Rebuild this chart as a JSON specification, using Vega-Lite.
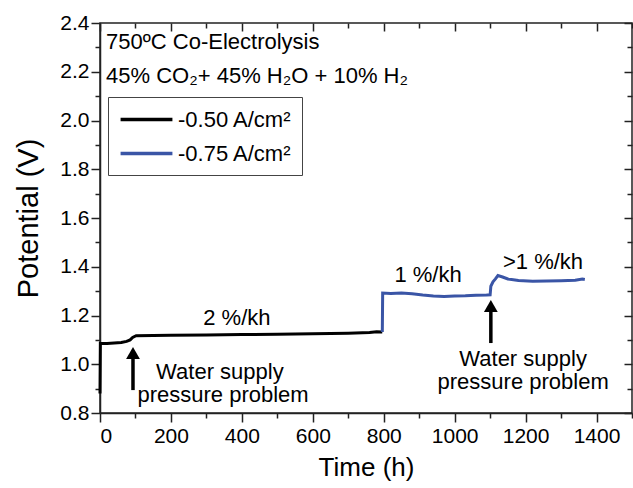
{
  "$schema": "https://vega.github.io/schema/vega-lite/v6.json",
  "width": 532,
  "height": 390,
  "autosize": {"type": "none"},
  "padding": {"left": 100, "top": 23, "right": 1, "bottom": 75},
  "background": "white",
  "config": {
    "view": {"stroke": "#222", "strokeWidth": 1.5},
    "font": "Liberation Sans",
    "axis": {"grid": false, "domainColor": "#222", "domainWidth": 1.5, "tickColor": "#222", "tickWidth": 1.5, "labelFont": "Liberation Sans", "titleFont": "Liberation Sans", "labelColor": "#000", "titleColor": "#000", "titleFontWeight": "normal"}
  },
  "datasets": {
    "series": [
      {"t": 0, "v": 0.88, "s": "-0.50 A/cm²"},
      {"t": 1, "v": 1.085, "s": "-0.50 A/cm²"},
      {"t": 20, "v": 1.085, "s": "-0.50 A/cm²"},
      {"t": 40, "v": 1.087, "s": "-0.50 A/cm²"},
      {"t": 60, "v": 1.089, "s": "-0.50 A/cm²"},
      {"t": 75, "v": 1.094, "s": "-0.50 A/cm²"},
      {"t": 85, "v": 1.1, "s": "-0.50 A/cm²"},
      {"t": 92, "v": 1.11, "s": "-0.50 A/cm²"},
      {"t": 102, "v": 1.117, "s": "-0.50 A/cm²"},
      {"t": 150, "v": 1.118, "s": "-0.50 A/cm²"},
      {"t": 200, "v": 1.119, "s": "-0.50 A/cm²"},
      {"t": 300, "v": 1.12, "s": "-0.50 A/cm²"},
      {"t": 400, "v": 1.122, "s": "-0.50 A/cm²"},
      {"t": 500, "v": 1.123, "s": "-0.50 A/cm²"},
      {"t": 600, "v": 1.125, "s": "-0.50 A/cm²"},
      {"t": 700, "v": 1.127, "s": "-0.50 A/cm²"},
      {"t": 760, "v": 1.13, "s": "-0.50 A/cm²"},
      {"t": 780, "v": 1.133, "s": "-0.50 A/cm²"},
      {"t": 796, "v": 1.132, "s": "-0.50 A/cm²"},
      {"t": 796, "v": 1.132, "s": "-0.75 A/cm²"},
      {"t": 797, "v": 1.292, "s": "-0.75 A/cm²"},
      {"t": 820, "v": 1.29, "s": "-0.75 A/cm²"},
      {"t": 850, "v": 1.292, "s": "-0.75 A/cm²"},
      {"t": 880, "v": 1.289, "s": "-0.75 A/cm²"},
      {"t": 910, "v": 1.284, "s": "-0.75 A/cm²"},
      {"t": 940, "v": 1.28, "s": "-0.75 A/cm²"},
      {"t": 970, "v": 1.278, "s": "-0.75 A/cm²"},
      {"t": 1000, "v": 1.28, "s": "-0.75 A/cm²"},
      {"t": 1030, "v": 1.281, "s": "-0.75 A/cm²"},
      {"t": 1060, "v": 1.283, "s": "-0.75 A/cm²"},
      {"t": 1090, "v": 1.284, "s": "-0.75 A/cm²"},
      {"t": 1100, "v": 1.285, "s": "-0.75 A/cm²"},
      {"t": 1102, "v": 1.32, "s": "-0.75 A/cm²"},
      {"t": 1108, "v": 1.338, "s": "-0.75 A/cm²"},
      {"t": 1115, "v": 1.35, "s": "-0.75 A/cm²"},
      {"t": 1122, "v": 1.364, "s": "-0.75 A/cm²"},
      {"t": 1135, "v": 1.358, "s": "-0.75 A/cm²"},
      {"t": 1150, "v": 1.35, "s": "-0.75 A/cm²"},
      {"t": 1180, "v": 1.344, "s": "-0.75 A/cm²"},
      {"t": 1220, "v": 1.341, "s": "-0.75 A/cm²"},
      {"t": 1260, "v": 1.342, "s": "-0.75 A/cm²"},
      {"t": 1300, "v": 1.343, "s": "-0.75 A/cm²"},
      {"t": 1340, "v": 1.345, "s": "-0.75 A/cm²"},
      {"t": 1360, "v": 1.35, "s": "-0.75 A/cm²"},
      {"t": 1367, "v": 1.348, "s": "-0.75 A/cm²"}
    ],
    "header": [
      {"t": 17, "v": 2.322, "label": "750ºC Co-Electrolysis"},
      {"t": 17, "v": 2.183, "label": "45% CO₂+ 45% H₂O + 10% H₂"}
    ],
    "notes": [
      {"t": 386, "v": 1.19, "label": "2 %/kh"},
      {"t": 338, "v": 0.968, "label": "Water supply"},
      {"t": 347, "v": 0.874, "label": "pressure problem"},
      {"t": 925, "v": 1.366, "label": "1 %/kh"},
      {"t": 1249, "v": 1.419, "label": ">1 %/kh"},
      {"t": 1193, "v": 1.022, "label": "Water supply"},
      {"t": 1193, "v": 0.927, "label": "pressure problem"}
    ],
    "arrows": [
      {"t": 93, "v1": 0.894, "v2": 1.05, "tip": 1.046},
      {"t": 1102, "v1": 1.087, "v2": 1.243, "tip": 1.239}
    ]
  },
  "resolve": {"axis": {"x": "independent", "y": "independent"}},
  "layer": [
    {
      "data": {"name": "series"},
      "mark": {"type": "line", "strokeWidth": 3, "interpolate": "linear"},
      "encoding": {
        "x": {"field": "t", "type": "quantitative", "scale": {"domain": [0, 1500], "nice": false},
          "axis": {"orient": "bottom", "title": "Time (h)", "titleFontSize": 26, "titlePadding": 8, "labelFontSize": 21, "labelPadding": 3,
            "values": [0,100,200,300,400,500,600,700,800,900,1000,1100,1200,1300,1400,1500],
            "labelExpr": "datum.value % 200 === 0 ? datum.label : ''",
            "format": "d",
            "tickSize": {"condition": {"test": "datum.value % 200 === 0", "value": 9}, "value": 5}}},
        "y": {"field": "v", "type": "quantitative", "scale": {"domain": [0.8, 2.4], "nice": false, "zero": false},
          "axis": {"orient": "left", "title": "Potential (V)", "titleFontSize": 29, "titlePadding": 16, "labelFontSize": 21, "labelPadding": 2,
            "values": [0.8,0.9,1.0,1.1,1.2,1.3,1.4,1.5,1.6,1.7,1.8,1.9,2.0,2.1,2.2,2.3,2.4],
            "format": ".1f",
            "labelExpr": "round(datum.value*10) % 2 === 0 ? datum.label : ''",
            "tickSize": {"condition": {"test": "round(datum.value*10) % 2 === 0", "value": 9}, "value": 5}}},
        "color": {"field": "s", "type": "nominal",
          "scale": {"domain": ["-0.50 A/cm²", "-0.75 A/cm²"], "range": ["#000000", "#3a55a6"]},
          "legend": {"title": null, "orient": "none", "legendX": 8, "legendY": 74, "strokeColor": "#444",
            "padding": 10, "symbolType": "M-2.5,0H2.5", "symbolSize": 430, "symbolOffset": 16, "symbolStrokeWidth": 3.5,
            "labelFontSize": 22, "labelFont": "Liberation Sans", "labelColor": "#000", "rowPadding": 10, "labelOffset": 19}}
      }
    },
    {
      "data": {"name": "header"},
      "mark": {"type": "text", "align": "left", "baseline": "middle", "fontSize": 22, "font": "Liberation Sans", "color": "#000"},
      "encoding": {
        "x": {"field": "t", "type": "quantitative",
          "axis": {"orient": "top", "title": null, "labels": false, "domain": false,
            "values": [0,100,200,300,400,500,600,700,800,900,1000,1100,1200,1300,1400,1500],
            "tickSize": {"condition": {"test": "datum.value % 200 === 0", "value": -8}, "value": -5}}},
        "y": {"field": "v", "type": "quantitative",
          "axis": {"orient": "right", "title": null, "labels": false, "domain": false,
            "values": [0.8,0.9,1.0,1.1,1.2,1.3,1.4,1.5,1.6,1.7,1.8,1.9,2.0,2.1,2.2,2.3,2.4],
            "tickSize": {"condition": {"test": "round(datum.value*10) % 2 === 0", "value": -8}, "value": -5}}},
        "text": {"field": "label"}
      }
    },
    {
      "data": {"name": "notes"},
      "mark": {"type": "text", "align": "center", "baseline": "middle", "fontSize": 22, "font": "Liberation Sans", "color": "#000"},
      "encoding": {
        "x": {"field": "t", "type": "quantitative", "axis": null},
        "y": {"field": "v", "type": "quantitative", "axis": null},
        "text": {"field": "label"}
      }
    },
    {
      "data": {"name": "arrows"},
      "mark": {"type": "rule", "strokeWidth": 3.5, "color": "#000"},
      "encoding": {
        "x": {"field": "t", "type": "quantitative", "axis": null},
        "y": {"field": "v1", "type": "quantitative", "axis": null},
        "y2": {"field": "v2"}
      }
    },
    {
      "data": {"name": "arrows"},
      "mark": {"type": "point", "shape": "triangle-up", "filled": true, "color": "#000", "opacity": 1, "size": 190},
      "encoding": {
        "x": {"field": "t", "type": "quantitative", "axis": null},
        "y": {"field": "tip", "type": "quantitative", "axis": null}
      }
    }
  ]
}
